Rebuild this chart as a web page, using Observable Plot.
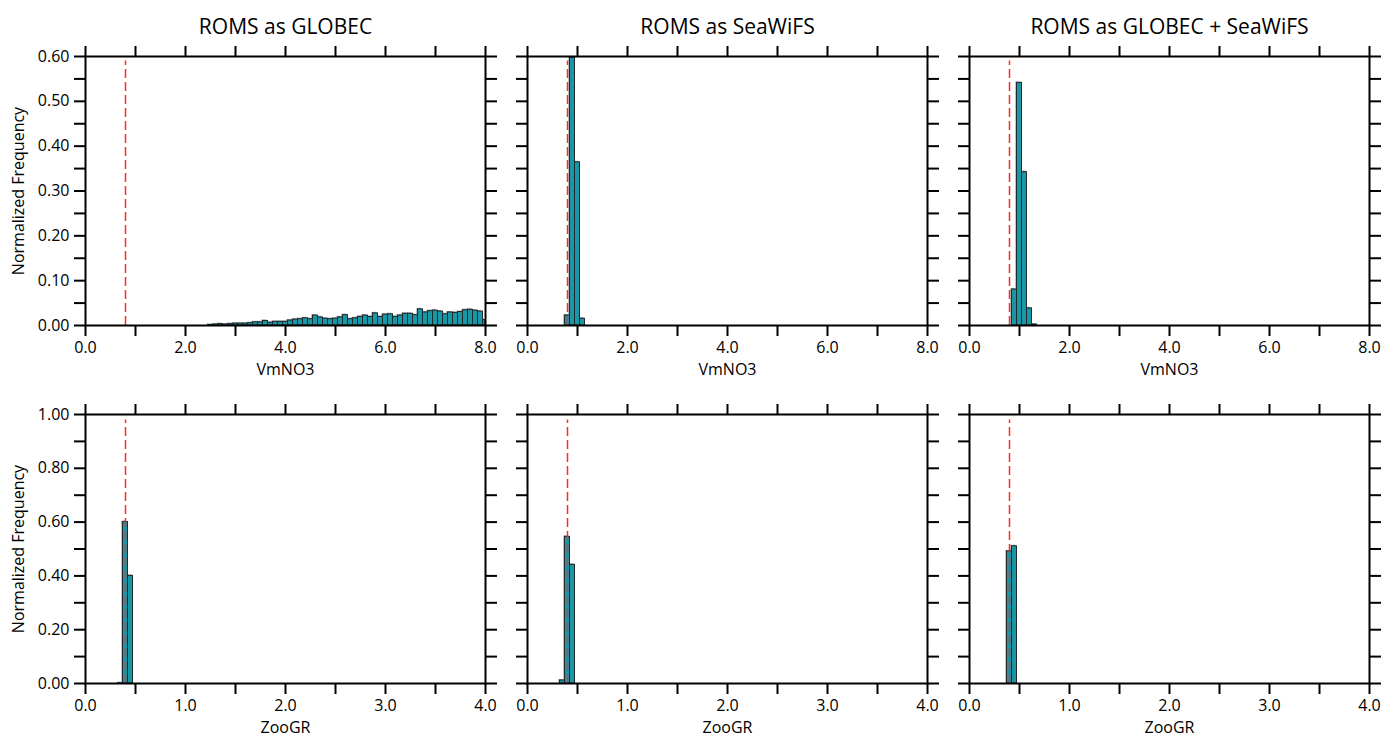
<!DOCTYPE html>
<html>
<head>
<meta charset="utf-8">
<script src="https://cdn.jsdelivr.net/npm/d3@7"></script>
<script src="https://cdn.jsdelivr.net/npm/@observablehq/plot@0.6"></script>
<style>
  html, body { margin: 0; padding: 0; background: white; }
  #chart { position: relative; width: 1398px; height: 745px; overflow: hidden; font-family: "Open Sans", sans-serif; }
  #chart svg { position: absolute; }
</style>
</head>
<body>
<div id="chart"></div>
<script>
// ---- Panel titles and axis labels ----
const titles = ["ROMS as GLOBEC", "ROMS as SeaWiFS", "ROMS as GLOBEC + SeaWiFS"];
const rowLabels = ["VmNO3", "ZooGR"];
const yLabel = "Normalized Frequency";

// ---- Tick values ----
const vmTicks = [0, 1, 2, 3, 4, 5, 6, 7, 8];
const vmLabelTicks = [0, 2, 4, 6, 8];
const zooTicks = [0, 0.5, 1, 1.5, 2, 2.5, 3, 3.5, 4];
const zooLabelTicks = [0, 1, 2, 3, 4];
const freqTicksTop = [0, 0.05, 0.1, 0.15, 0.2, 0.25, 0.3, 0.35, 0.4, 0.45, 0.5, 0.55, 0.6];
const freqLabelTicksTop = [0, 0.1, 0.2, 0.3, 0.4, 0.5, 0.6];
const freqTicksBottom = [0, 0.1, 0.2, 0.3, 0.4, 0.5, 0.6, 0.7, 0.8, 0.9, 1.0];
const freqLabelTicksBottom = [0, 0.2, 0.4, 0.6, 0.8, 1.0];

// ---- Reference (prior) values, dashed red lines ----
const vmRef = 0.8;
const zooRef = 0.4;

// ---- Histogram bins ----
const vmBinWidth = 0.1;
const zooBinWidth = 0.05;

// VmNO3, ROMS as GLOBEC : bin centres 2.5 .. 8.0
const vmGlobecFirstCenter = 2.5;
const vmGlobecValues = [
  0.001, 0.002, 0.003, 0.002, 0.003,
  0.004, 0.004, 0.004, 0.005, 0.007, 0.007, 0.010, 0.006, 0.008, 0.008,
  0.008, 0.011, 0.013, 0.014, 0.016, 0.014, 0.022, 0.018, 0.015, 0.014,
  0.015, 0.018, 0.023, 0.014, 0.016, 0.019, 0.022, 0.019, 0.027, 0.019,
  0.024, 0.025, 0.019, 0.022, 0.026, 0.026, 0.023, 0.036, 0.029, 0.032,
  0.033, 0.031, 0.025, 0.029, 0.028, 0.030, 0.034, 0.035, 0.033, 0.031,
  0.012
];
// VmNO3, ROMS as SeaWiFS
const vmSeawifsCenters = [0.8, 0.9, 1.0, 1.1];
const vmSeawifsValues = [0.022, 0.597, 0.364, 0.015];
// VmNO3, ROMS as GLOBEC + SeaWiFS
const vmBothCenters = [0.9, 1.0, 1.1, 1.2, 1.3];
const vmBothValues = [0.080, 0.541, 0.342, 0.038, 0.002];

// ZooGR
const zooGlobecCenters = [0.35, 0.40, 0.45];
const zooGlobecValues = [0.001, 0.600, 0.400];
const zooSeawifsCenters = [0.35, 0.40, 0.45];
const zooSeawifsValues = [0.011, 0.545, 0.441];
const zooBothCenters = [0.40, 0.45];
const zooBothValues = [0.491, 0.510];

// ---- Build tables ----
function table(centers, values, width, max) {
  return centers.map((c, i) => ({
    x1: Math.max(0, c - width / 2),
    x2: Math.min(max, c + width / 2),
    v: values[i]
  }));
}
const vmGlobecCenters = vmGlobecValues.map((_, i) => +(vmGlobecFirstCenter + i * vmBinWidth).toFixed(2));

const panels = [
  {row: 0, col: 0, data: table(vmGlobecCenters, vmGlobecValues, vmBinWidth, 8)},
  {row: 0, col: 1, data: table(vmSeawifsCenters, vmSeawifsValues, vmBinWidth, 8)},
  {row: 0, col: 2, data: table(vmBothCenters, vmBothValues, vmBinWidth, 8)},
  {row: 1, col: 0, data: table(zooGlobecCenters, zooGlobecValues, zooBinWidth, 4)},
  {row: 1, col: 1, data: table(zooSeawifsCenters, zooSeawifsValues, zooBinWidth, 4)},
  {row: 1, col: 2, data: table(zooBothCenters, zooBothValues, zooBinWidth, 4)}
];

const rowSpec = [
  {xDomain: [0, 8], xTicks: vmTicks, xLabelTicks: vmLabelTicks, yDomain: [0, 0.6],
   yTicks: freqTicksTop, yLabelTicks: freqLabelTicksTop, yFmt: 2, ref: vmRef, refTop: 0.59, top: 56},
  {xDomain: [0, 4], xTicks: zooTicks, xLabelTicks: zooLabelTicks, yDomain: [0, 1],
   yTicks: freqTicksBottom, yLabelTicks: freqLabelTicksBottom, yFmt: 2, ref: zooRef, refTop: 0.98, top: 414}
];
const colLeft = [85, 527, 969];
const PW = 400, PH = 269;

const teal = "#1898a7";
const shadow = "#8c8c8c";
const edge = "#1f2a2c";

const isIn = (arr, d) => arr.some(t => Math.abs(t - d) < 1e-9);

const chart = document.getElementById("chart");

for (const p of panels) {
  const r = rowSpec[p.row];
  const mL = 85, mR = 20, mB = 62, mT = p.row === 0 ? 56 : 20;
  const showY = p.col === 0;
  const marks = [
    Plot.rect(p.data, {x1: "x1", x2: "x2", y1: 0, y2: "v", fill: shadow, dx: -1, dy: -1}),
    Plot.rect(p.data, {x1: "x1", x2: "x2", y1: 0, y2: "v", fill: teal, stroke: edge, strokeWidth: 1}),
    Plot.ruleX([r.ref], {y1: 0, y2: r.refTop, stroke: "#ff2a2a", strokeWidth: 1.5, strokeDasharray: "9,4"}),
    Plot.frame({stroke: "black", strokeWidth: 2}),
    Plot.axisX({anchor: "bottom", ticks: r.xTicks, tickSize: 11, tickPadding: 5, strokeWidth: 2,
      tickFormat: d => isIn(r.xLabelTicks, d) ? d.toFixed(1) : "", label: null, fontSize: 16}),
    Plot.axisX({anchor: "top", ticks: r.xTicks, tickSize: 11, strokeWidth: 2, tickFormat: () => "", label: null}),
    Plot.axisY({anchor: "left", ticks: r.yTicks, tickSize: 11, tickPadding: 5, strokeWidth: 2,
      tickFormat: d => showY && isIn(r.yLabelTicks, d) ? d.toFixed(r.yFmt) : "", label: null, fontSize: 16}),
    Plot.axisY({anchor: "right", ticks: r.yTicks, tickSize: 11, strokeWidth: 2, tickFormat: () => "", label: null}),
    Plot.text([rowLabels[p.row]], {frameAnchor: "bottom", dy: 49, fontSize: 16, fill: "black", textAnchor: "middle"})
  ];
  if (showY) {
    marks.push(Plot.text([yLabel], {frameAnchor: "left", dx: -67, rotate: -90, fontSize: 16, fill: "black", textAnchor: "middle"}));
  }
  if (p.row === 0) {
    marks.push(Plot.text([titles[p.col]], {frameAnchor: "top", dy: -37, fontSize: 21, fill: "black", textAnchor: "middle"}));
  }
  const svg = Plot.plot({
    width: mL + PW + mR,
    height: mT + PH + mB,
    marginLeft: mL, marginRight: mR, marginTop: mT, marginBottom: mB,
    x: {domain: r.xDomain},
    y: {domain: r.yDomain},
    style: {background: "none", fontFamily: "'Open Sans', sans-serif", fontSize: "16px", color: "black", overflow: "visible", maxWidth: "none"},
    marks
  });
  svg.style.left = (colLeft[p.col] - mL) + "px";
  svg.style.top = (r.top - mT) + "px";
  chart.appendChild(svg);
}
</script>
</body>
</html>
